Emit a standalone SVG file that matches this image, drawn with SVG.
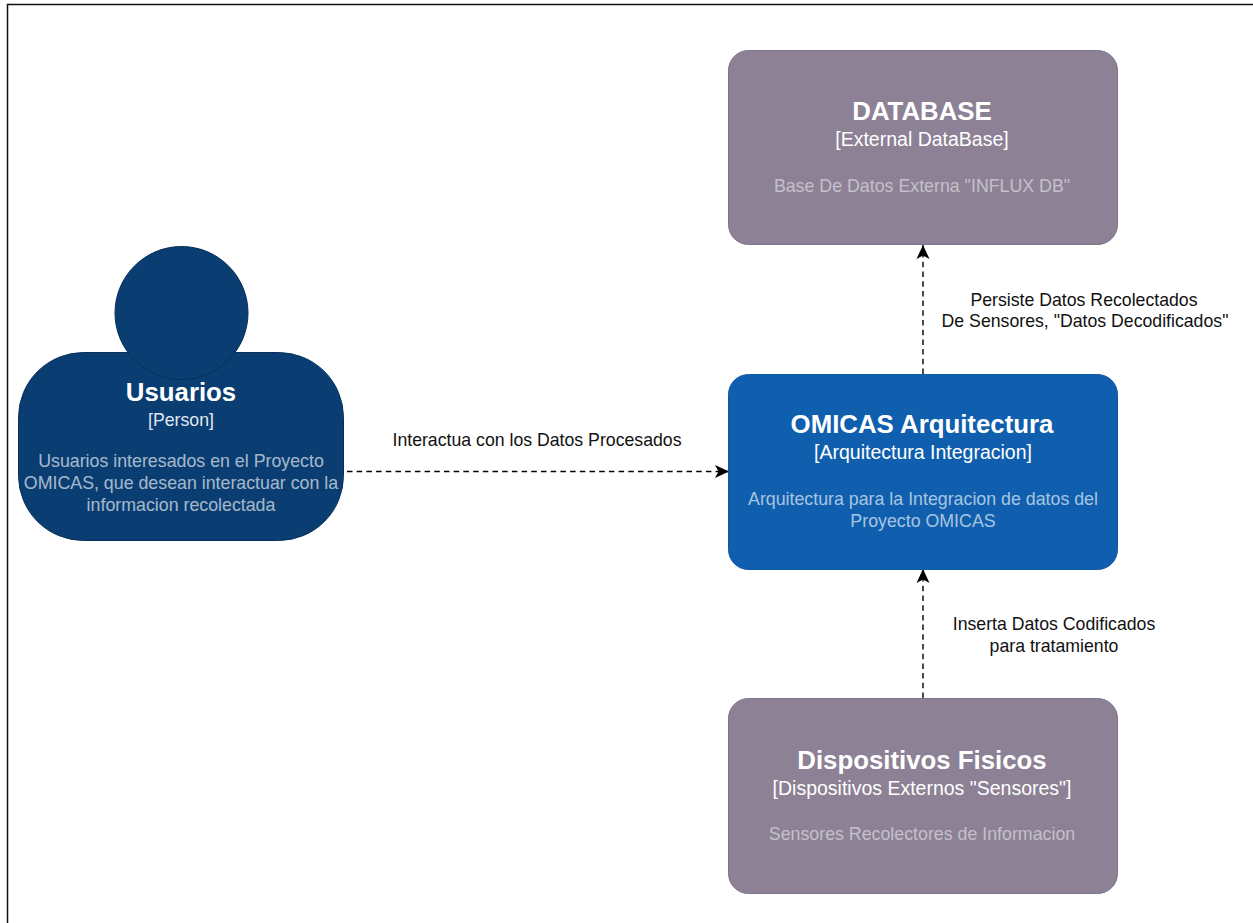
<svg xmlns="http://www.w3.org/2000/svg" width="1253" height="923" viewBox="0 0 1253 923">
<style>
text{font-family:"Liberation Sans",Arial,sans-serif;text-anchor:middle}
.t{font-size:25.8px;font-weight:bold;fill:#fff}
.s{font-size:19.5px;fill:#fff}
.sp{font-size:17.7px;fill:#fff}
.d{font-size:17.8px;fill:#fff;fill-opacity:.5}
.d2{font-size:17.8px;fill:#fff;fill-opacity:.65}
.l{font-size:17.7px;fill:#111}
.c{fill:none;stroke:#000;stroke-width:1.4;stroke-dasharray:5.500 4.200;marker-end:url(#a)}
.g{fill:#8c8195;stroke:#7d7288;stroke-width:1}
.b{fill:#0f5fae;stroke:#0f5aa5;stroke-width:1}
.p{fill:#0a3e73;stroke:#072f59;stroke-width:1}
</style>
<defs><marker id="a" markerUnits="userSpaceOnUse" markerWidth="16" markerHeight="16" refX="14" refY="8" orient="auto"><path d="M0 1.500L14 8L0 14.500L3.500 8Z" fill="#000"/></marker></defs>
<rect width="1253" height="923" fill="#fff"/>
<path d="M7.500 923V4.500H1253" fill="none" stroke="#111" stroke-width="1.500"/>
<g id="connectors">
<path class="c" d="M347 471.500H729"/>
<path class="c" d="M923 374V245"/>
<path class="c" d="M923 698V569"/>
<text class="l" x="537" y="446">Interactua con los Datos Procesados</text>
<text class="l" x="1084" y="306">Persiste Datos Recolectados</text>
<text class="l" x="1085" y="327">De Sensores, "Datos Decodificados"</text>
<text class="l" x="1054" y="629.500">Inserta Datos Codificados</text>
<text class="l" x="1054" y="651.500">para tratamiento</text>
</g>
<g id="usuarios">
<rect class="p" x="18.500" y="352.500" width="325" height="188" rx="65" ry="65"/>
<circle class="p" cx="181.500" cy="313" r="66.500"/>
<text class="t" x="181" y="401">Usuarios</text>
<text class="sp" x="181" y="426" fill-opacity=".9">[Person]</text>
<text class="d2" x="181" y="467">Usuarios interesados en el Proyecto</text>
<text class="d2" x="181" y="489">OMICAS, que desean interactuar con la</text>
<text class="d2" x="181" y="511">informacion recolectada</text>
</g>
<g id="omicas">
<rect class="b" x="728.500" y="374.500" width="389" height="195" rx="20" ry="20"/>
<text class="t" x="922" y="433">OMICAS Arquitectura</text>
<text class="s" x="923" y="459">[Arquitectura Integracion]</text>
<text class="d2" x="923" y="505">Arquitectura para la Integracion de datos del</text>
<text class="d2" x="923" y="527">Proyecto OMICAS</text>
</g>
<g id="database">
<rect class="g" x="728.500" y="50.500" width="389" height="194" rx="20" ry="20"/>
<text class="t" x="922" y="120">DATABASE</text>
<text class="s" x="922" y="146">[External DataBase]</text>
<text class="d" x="922" y="192">Base De Datos Externa "INFLUX DB"</text>
</g>
<g id="dispositivos">
<rect class="g" x="728.500" y="698.500" width="389" height="195" rx="20" ry="20"/>
<text class="t" x="922" y="769">Dispositivos Fisicos</text>
<text class="s" x="922" y="795">[Dispositivos Externos "Sensores"]</text>
<text class="d" x="922" y="840">Sensores Recolectores de Informacion</text>
</g>
</svg>
